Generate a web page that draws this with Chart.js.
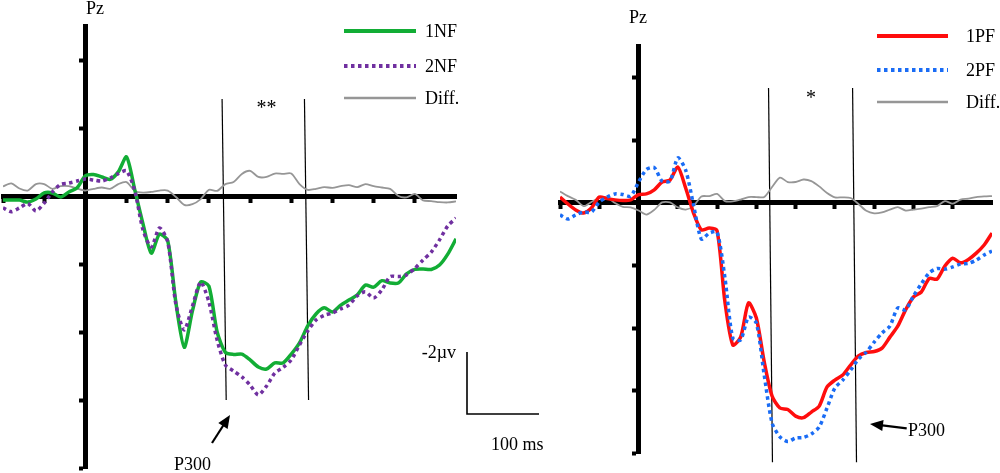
<!DOCTYPE html>
<html>
<head>
<meta charset="utf-8">
<title>Pz ERP waveforms</title>
<script src="https://cdn.jsdelivr.net/npm/chart.js@4.4.1/dist/chart.umd.min.js"></script>
<style>
  html, body { margin: 0; padding: 0; background: #fff; }
  #wrap { position: relative; width: 1000px; height: 473px; overflow: hidden; }
  .panel { position: absolute; top: 0; height: 473px; }
  #left-panel { left: 0; width: 560px; }
  #right-panel { left: 540px; width: 460px; }
</style>
</head>
<body>
<div id="wrap">
  <div class="panel" id="left-panel"><canvas id="left-chart" width="560" height="473"></canvas></div>
  <div class="panel" id="right-panel"><canvas id="right-chart" width="460" height="473"></canvas></div>
</div>
<script>
'use strict';

//********** Data *******************

// time in ms, amplitude in µV (positive plotted downward)
let times = [-100, -90, -80, -70, -60, -50, -40, -30, -20, -10,
  0, 10, 20, 30, 40, 50, 60, 70, 80, 90,
  100, 110, 120, 130, 140, 150, 160, 170, 180, 190,
  200, 210, 220, 230, 240, 250, 260, 270, 280, 290,
  300, 310, 320, 330, 340, 350, 360, 370, 380, 390,
  400, 410, 420, 430, 440, 450];

let nfNames = ['1NF', '2NF', 'Diff.'];
let nf1 = [0.12, 0.12, 0.12, 0.18, 0.09, -0.09, -0.09, 0.03, -0.12, -0.24,
  -0.59, -0.63, -0.56, -0.49, -0.71, -1.15, -0.18, 0.82, 1.68, 1.12,
  1.32, 3.15, 4.45, 3.38, 2.53, 2.65, 4.0, 4.6, 4.66, 4.65,
  4.82, 5.03, 5.09, 4.91, 4.91, 4.65, 4.32, 3.82, 3.47, 3.29,
  3.41, 3.21, 3.06, 2.91, 2.62, 2.68, 2.49, 2.56, 2.56, 2.29,
  2.16, 2.15, 2.16, 2.03, 1.71, 1.26];
let nf2 = [0.35, 0.46, 0.35, 0.22, 0.44, 0.21, -0.12, -0.34, -0.38, -0.44,
  -0.5, -0.47, -0.44, -0.53, -0.66, -0.74, -0.15, 1.0, 1.5, 0.94,
  1.35, 3.2, 3.94, 3.24, 2.53, 3.12, 4.24, 4.97, 5.15, 5.32,
  5.56, 5.85, 5.59, 5.21, 5.04, 4.82, 4.38, 3.97, 3.65, 3.51,
  3.44, 3.32, 3.21, 2.94, 2.82, 3.0, 2.76, 2.37, 2.37, 2.32,
  2.13, 1.88, 1.65, 1.29, 0.88, 0.65];
let nfDiff = [-0.28, -0.37, -0.22, -0.16, -0.35, -0.35, -0.21, -0.29, -0.29, -0.22,
  -0.16, -0.21, -0.25, -0.21, -0.35, -0.41, -0.15, -0.10, -0.12, -0.16,
  -0.16, 0.03, 0.26, 0.24, 0.09, -0.18, -0.15, -0.35, -0.41, -0.65,
  -0.74, -0.56, -0.56, -0.66, -0.65, -0.66, -0.35, -0.18, -0.21, -0.26,
  -0.24, -0.29, -0.32, -0.26, -0.35, -0.29, -0.25, -0.21, 0, 0.04,
  -0.06, 0.13, 0.15, 0.18, 0.19, 0.16];
let nfWindow = [168.5, 268.5];

let pfNames = ['1PF', '2PF', 'Diff.'];
let pf1 = [-0.18, 0.04, 0.23, 0.33, 0.17, -0.18, -0.13, -0.09, -0.07, -0.09,
  -0.26, -0.28, -0.41, -0.66, -0.72, -1.14, -0.47, 0.33, 0.87, 0.81,
  0.9, 3.17, 4.54, 4.29, 3.2, 3.68, 5.08, 6.17, 6.55, 6.6,
  6.81, 6.86, 6.68, 6.49, 5.88, 5.66, 5.5, 5.18, 4.89, 4.78,
  4.75, 4.64, 4.29, 3.94, 3.42, 3.01, 2.85, 2.42, 2.44, 2.02,
  1.77, 1.92, 1.81, 1.61, 1.35, 0.97];
let pf2 = [0.39, 0.52, 0.39, 0.3, 0.3, -0.02, -0.18, -0.28, -0.26, -0.21,
  -0.66, -1.06, -1.12, -0.69, -0.69, -1.43, -1.04, 0.07, 1.16, 0.97,
  0.94, 2.4, 4.32, 4.38, 3.65, 3.84, 5.5, 7.03, 7.47, 7.62,
  7.51, 7.49, 7.38, 7.16, 6.55, 5.91, 5.66, 5.34, 4.99, 4.77,
  4.45, 4.16, 3.94, 3.36, 3.42, 2.98, 2.59, 2.24, 2.1, 2.12,
  2.05, 1.96, 1.94, 1.83, 1.67, 1.54];
let pfDiff = [-0.36, -0.21, -0.09, 0.11, -0.02, -0.15, -0.17, 0.01, 0.13, 0.15,
  0.25, 0.38, 0.23, -0.01, -0.01, 0.15, 0.22, 0.11, -0.2, -0.21,
  -0.28, -0.05, -0.04, -0.1, -0.18, -0.18, -0.18, -0.5, -0.8, -0.66,
  -0.66, -0.74, -0.69, -0.52, -0.31, -0.17, -0.17, -0.15, 0.04, 0.26,
  0.34, 0.31, 0.22, 0.14, 0.25, 0.22, 0.19, 0.14, 0.11, -0.05,
  0.03, -0.1, -0.13, -0.18, -0.2, -0.21];
let pfWindow = [168, 275];

let xTicks = [-100, -50, 0, 50, 100, 150, 200, 250, 300, 350, 400];
let yTicks = [-4, -2, 0, 2, 4, 6, 8];

// ************ Annotation plugin ************

const serif = '"Liberation Serif", "Times New Roman", serif';

function drawArrow(ctx, x1, y1, x2, y2) {
  let ang = Math.atan2(y2 - y1, x2 - x1);
  let head = 13;
  let half = 5.5;
  let c = Math.cos(ang);
  let s = Math.sin(ang);
  ctx.beginPath();
  ctx.moveTo(x1, y1);
  ctx.lineTo(x2 - head * 0.8 * c, y2 - head * 0.8 * s);
  ctx.lineWidth = 2.2;
  ctx.stroke();
  ctx.beginPath();
  ctx.moveTo(x2, y2);
  ctx.lineTo(x2 - head * c + half * s, y2 - head * s - half * c);
  ctx.lineTo(x2 - head * c - half * s, y2 - head * s + half * c);
  ctx.closePath();
  ctx.fill();
}

const erpNotes = {
  id: 'erpNotes',
  afterDatasetsDraw(chart, args, o) {
    let ctx = chart.ctx;
    ctx.save();
    ctx.fillStyle = '#000';
    ctx.strokeStyle = '#000';
    ctx.font = '18px ' + serif;
    ctx.textAlign = 'left';
    ctx.fillText('Pz', o.title[0], o.title[1]);

    // legend
    for (let i = 0; i < o.names.length; i++) {
      let ds = chart.data.datasets[i];
      ctx.save();
      ctx.strokeStyle = ds.borderColor;
      ctx.lineWidth = ds.borderWidth + 0.5;
      ctx.setLineDash(ds.borderDash || []);
      ctx.beginPath();
      ctx.moveTo(o.legend.x1, o.legend.rows[i]);
      ctx.lineTo(o.legend.x2, o.legend.rows[i]);
      ctx.stroke();
      ctx.restore();
      ctx.fillText(o.names[i], o.legend.textX, o.legend.rows[i] + 6);
    }

    // significance mark
    ctx.textAlign = 'center';
    ctx.font = '20px ' + serif;
    ctx.fillText(o.star.text, o.star.x, o.star.y);

    // P300 arrow
    drawArrow(ctx, o.arrow[0], o.arrow[1], o.arrow[2], o.arrow[3]);
    ctx.textAlign = 'left';
    ctx.font = '18px ' + serif;
    ctx.fillText('P300', o.p300[0], o.p300[1]);

    // calibration bar
    if (o.bar) {
      ctx.lineWidth = 1.6;
      ctx.beginPath();
      ctx.moveTo(o.bar.x, o.bar.top);
      ctx.lineTo(o.bar.x, o.bar.bottom);
      ctx.lineTo(o.bar.right, o.bar.bottom);
      ctx.stroke();
      ctx.textAlign = 'right';
      ctx.fillText('-2\u00b5v', o.bar.x - 11, o.bar.top + 6);
      ctx.textAlign = 'left';
      ctx.fillText('100 ms', o.bar.x + 24, o.bar.bottom + 36);
    }
    ctx.restore();
  }
};

// ************ Chart builder ************

function makePanel(canvasId, p) {
  let datasets = [];
  for (let i = 0; i < p.series.length; i++) {
    let values = p.series[i];
    datasets.push({
      label: p.names[i],
      data: times.map((t, j) => ({x: t, y: values[j]})),
      borderColor: p.colors[i],
      borderWidth: p.widths[i],
      borderDash: p.dashes[i],
      borderCapStyle: 'butt',
      pointRadius: 0,
      tension: 0.25,
      fill: false,
      order: p.order[i]
    });
  }
  for (let k = 0; k < p.window.length; k++) {
    datasets.push({
      label: 'window',
      data: [{x: p.window[k] - 2.5, y: p.windowSpan[0]}, {x: p.window[k] + 2.5, y: p.windowSpan[1]}],
      borderColor: '#000',
      borderWidth: 1.2,
      pointRadius: 0,
      clip: false,
      order: 5
    });
  }

  let axisStyle = {
    ticks: {display: false},
    grid: {drawOnChartArea: false, drawTicks: true, tickLength: 4, tickWidth: 4, tickColor: '#000'},
    border: {display: true, width: 5, color: '#000'}
  };

  return new Chart(document.getElementById(canvasId), {
    type: 'line',
    data: {datasets: datasets},
    options: {
      responsive: false,
      animation: false,
      events: [],
      layout: {padding: p.padding},
      scales: {
        x: Object.assign({
          type: 'linear', min: -100, max: 450, position: {y: 0},
          afterBuildTicks: sc => { sc.ticks = xTicks.map(v => ({value: v})); }
        }, axisStyle),
        y: Object.assign({
          type: 'linear', min: -5, max: 8, reverse: true, position: {x: 0},
          afterBuildTicks: sc => { sc.ticks = yTicks.map(v => ({value: v})); }
        }, axisStyle)
      },
      plugins: {
        legend: {display: false},
        tooltip: {enabled: false},
        erpNotes: p.notes
      }
    },
    plugins: [erpNotes]
  });
}

makePanel('left-chart', {
  names: nfNames,
  series: [nf1, nf2, nfDiff],
  colors: ['#12ad35', '#7030a0', '#969696'],
  widths: [3.5, 3.5, 1.8],
  dashes: [[], [3.5, 3.5], []],
  order: [2, 1, 3],
  window: nfWindow,
  windowSpan: [-2.85, 6.0],
  padding: {left: 3, right: 104, top: 26, bottom: 5},
  notes: {
    names: nfNames,
    title: [86, 13.5],
    legend: {x1: 344, x2: 416, textX: 425, rows: [31, 66, 98]},
    star: {text: '**', x: 266.5, y: 114},
    arrow: [212, 443, 230, 415],
    p300: [174, 470],
    bar: {x: 467, top: 352, bottom: 414, right: 539}
  }
});

makePanel('right-chart', {
  names: pfNames,
  series: [pf1, pf2, pfDiff],
  colors: ['#ff0d0d', '#1a6cf5', '#969696'],
  widths: [3.5, 3.5, 1.8],
  dashes: [[], [3.5, 3.5], []],
  order: [2, 1, 3],
  window: pfWindow,
  windowSpan: [-3.66, 8.28],
  padding: {left: 20, right: 8, top: 46, bottom: 19.6},
  notes: {
    names: pfNames,
    title: [89, 23],
    legend: {x1: 337, x2: 408, textX: 426, rows: [36, 70, 102]},
    star: {text: '*', x: 271, y: 104},
    arrow: [366.7, 428.3, 330, 424],
    p300: [368, 436],
    bar: null
  }
});
</script>
</body>
</html>
